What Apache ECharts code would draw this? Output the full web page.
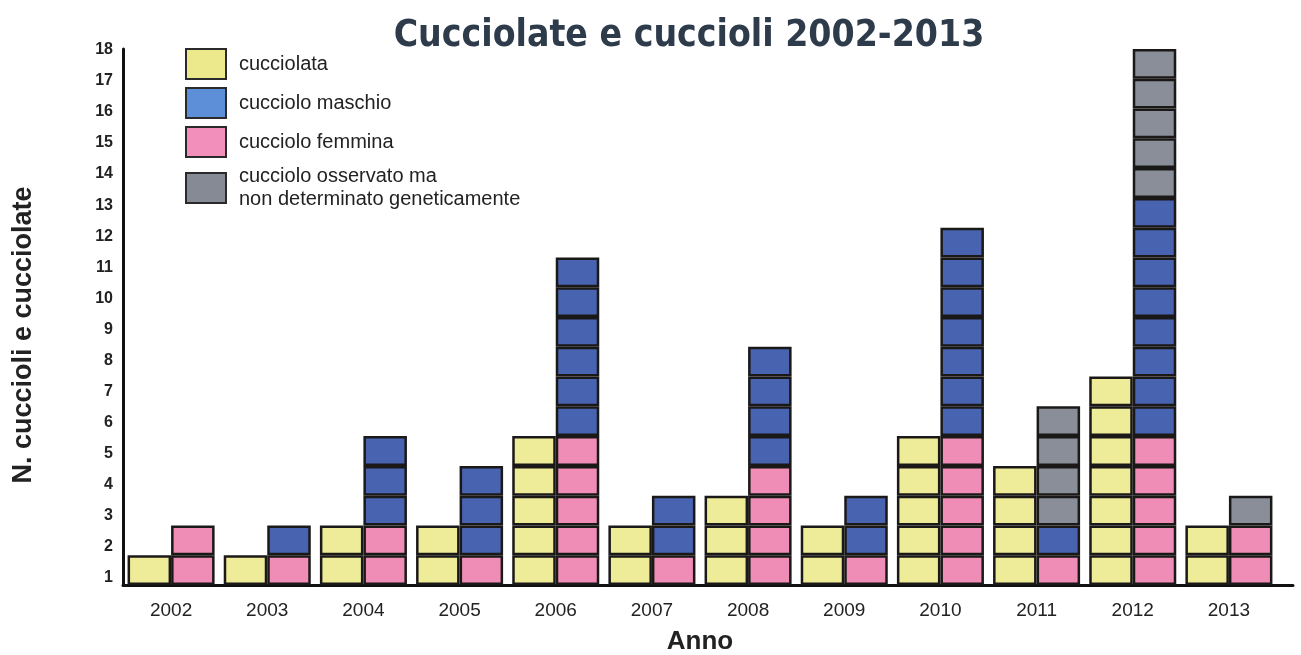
<!DOCTYPE html>
<html><head><meta charset="utf-8">
<script src="https://cdn.jsdelivr.net/npm/echarts@6/dist/echarts.min.js"></script>
<style>html,body{margin:0;padding:0;background:#fff}#c{width:1301px;height:655px}</style>
</head><body><div id="c"></div>
<script>
// ---- data ----
const years = ['2002','2003','2004','2005','2006','2007','2008','2009','2010','2011','2012','2013'];
const cucciolate     = [1,1,2,2,5,2,3,2,5,4,7,2];
const femmine        = [2,1,2,1,5,1,4,1,5,1,5,2];
const maschi         = [0,1,3,3,6,2,4,2,7,1,8,0];
const nonDeterminati = [0,0,0,0,0,0,0,0,0,4,5,1];
const yTickLabels = [1,2,3,4,5,6,7,8,9,10,11,12,13,14,15,16,17,18];

const names = {
  lit: 'cucciolata',
  m: 'cucciolo maschio',
  f: 'cucciolo femmina',
  nd: 'cucciolo osservato ma\nnon determinato geneticamente'
};
const border = '#1b1818';

function layers(counts, name, stack, color) {
  const max = Math.max(...counts);
  const out = [];
  for (let k = 1; k <= max; k++) {
    out.push({
      type: 'bar', name, stack,
      xAxisIndex: 0, yAxisIndex: 0,
      data: counts.map(c => c >= k ? 1 : '-'),
      itemStyle: { color, borderColor: border, borderWidth: 2.5 },
      barGap: '0%', barCategoryGap: '9.5%',
      emphasis: { disabled: true },
      animation: false
    });
  }
  return out;
}

const series = [
  ...layers(cucciolate, names.lit, 'L', '#eeec98'),
  ...layers(femmine, names.f, 'R', '#ef8db6'),
  ...layers(maschi, names.m, 'R', '#4863b0'),
  ...layers(nonDeterminati, names.nd, 'R', '#8a8e98')
];

const chart = echarts.init(document.getElementById('c'), null, { renderer: 'canvas' });
chart.setOption({
  animation: false,
  backgroundColor: '#fff',
  title: {
    text: 'Cucciolate e cuccioli 2002-2013',
    left: 684, top: 13, textAlign: 'center',
    textStyle: { fontFamily: 'DejaVu Sans Condensed', fontWeight: 'bold', fontSize: 37, color: '#2d3b4b' }
  },
  legend: {
    orient: 'vertical', left: 185, top: 48, padding: 0,
    itemWidth: 40, itemHeight: 30, itemGap: 7, icon: 'rect',
    itemStyle: { borderColor: '#2a2a2a', borderWidth: 2 },
    textStyle: { fontFamily: 'Liberation Sans', fontSize: 20, color: '#222', lineHeight: 23, padding: [0,0,0,8] },
    selectedMode: false,
    data: [
      { name: names.lit, itemStyle: { color: '#ebe98c' } },
      { name: names.m, itemStyle: { color: '#5d8fd8' } },
      { name: names.f, itemStyle: { color: '#f290bb' } },
      { name: names.nd, itemStyle: { color: '#858a95' } }
    ]
  },
  grid: [
    { left: 123, width: 1154, top: 49, bottom: 70, containLabel: false, outerBoundsMode: 'none' },
    { left: 123, width: 1170, top: 584, height: 1, containLabel: false, outerBoundsMode: 'none' }
  ],
  xAxis: [
    {
      type: 'category', gridIndex: 0, data: years,
      axisLine: { show: false },
      axisTick: { show: false },
      axisLabel: { fontFamily: 'Liberation Sans', fontSize: 19, color: '#222', margin: 16 },
      name: 'Anno', nameLocation: 'middle', nameGap: 44,
      nameTextStyle: { fontFamily: 'Liberation Sans', fontWeight: 'bold', fontSize: 26, color: '#222' }
    },
    {
      type: 'value', gridIndex: 1, min: 0, max: 1,
      axisLine: { show: true, lineStyle: { color: '#111', width: 3 } },
      axisTick: { show: false }, axisLabel: { show: false }, splitLine: { show: false }
    }
  ],
  yAxis: [
    {
      type: 'value', gridIndex: 0, min: 0, max: 18, interval: 1, position: 'left',
      axisLine: { show: true, lineStyle: { color: '#111', width: 3 } },
      axisTick: { show: false }, axisLabel: { show: false }, splitLine: { show: false },
      name: 'N. cuccioli e cucciolate', nameLocation: 'middle', nameGap: 86, nameRotate: 90,
      nameTextStyle: { fontFamily: 'Liberation Sans', fontWeight: 'bold', fontSize: 27, color: '#222', padding: [0, 36, 0, 0] }
    },
    {
      type: 'value', gridIndex: 0, min: 0.775, max: 18.025, position: 'left',
      axisLine: { show: false }, axisTick: { show: false }, splitLine: { show: false },
      axisLabel: {
        customValues: yTickLabels, margin: 10, padding: [6, 0, 0, 0],
        fontFamily: 'Liberation Sans', fontWeight: 'bold', fontSize: 16, color: '#222'
      }
    },
    {
      type: 'value', gridIndex: 1, min: 0, max: 1, show: false
    }
  ],
  series
});
</script>
</body></html>
